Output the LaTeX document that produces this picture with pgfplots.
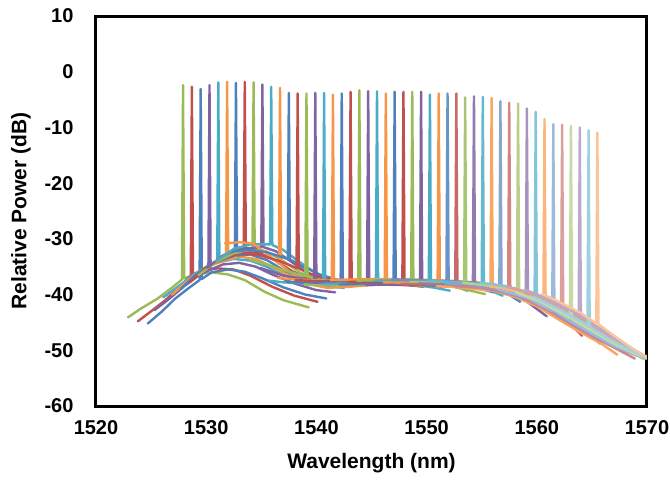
\documentclass[border=0pt]{standalone}
\usepackage{pgfplots}
\pgfplotsset{compat=1.18}
\usepackage{fontspec}
\setmainfont{Liberation Sans}
% Office 2007 series colours
\definecolor{cB}{HTML}{4F81BD}
\definecolor{cR}{HTML}{C0504D}
\definecolor{cG}{HTML}{9BBB59}
\definecolor{cP}{HTML}{8064A2}
\definecolor{cT}{HTML}{4BACC6}
\definecolor{cO}{HTML}{F79646}
\begin{document}
\begin{tikzpicture}
\useasboundingbox (-96pt,-74pt) rectangle (574pt,406pt);
\begin{axis}[
  at={(0pt,0pt)}, anchor=south west,
  scale only axis, width=551pt, height=390pt,
  xmin=1520, xmax=1570, ymin=-60, ymax=10,
  xtick={1520,1530,...,1570}, ytick={-60,-50,...,10},
  xticklabels={1520,1530,1540,1550,1560,1570},
  yticklabels={-60,-50,-40,-30,-20,-10,0,10},
  major tick length=0pt,
  axis line style={line width=3pt, black},
  tick label style={font=\fontsize{20}{24}\selectfont\bfseries},
  xticklabel style={yshift=-11pt},
  yticklabel style={xshift=-19pt},
  xlabel={Wavelength (nm)}, ylabel={Relative Power (dB)},
  label style={font=\fontsize{21}{25}\selectfont\bfseries},
  xlabel style={at={(axis description cs:0.5,-0.146)}, anchor=center},
  ylabel style={at={(axis description cs:-0.136,0.5)}, anchor=center},
  every axis plot/.append style={line width=2.4pt, line join=round, line cap=round, mark=none},
]
% channels 1-16
\addplot[cG] coordinates {(1522.9,-44.1)(1524,-42.6)(1525.6,-40.7)(1527,-38.6)(1527.8,-37.3)(1527.9,-2.4)(1528.0,-37.1)(1529,-36.4)(1530.5,-36.0)(1532,-36.4)(1533.5,-37.4)(1535.3,-39.5)(1537,-41.0)(1539.3,-42.3)};
\addplot[cR] coordinates {(1523.8,-44.8)(1525,-43.0)(1526.3,-41.0)(1527.5,-38.8)(1528.6,-36.6)(1528.7,-2.7)(1528.8,-36.4)(1529.5,-35.8)(1531,-35.3)(1532.5,-35.5)(1534,-36.6)(1536,-38.6)(1538,-40.2)(1540.1,-41.3)};
\addplot[cB] coordinates {(1524.7,-45.2)(1526,-43.0)(1527.2,-40.7)(1528.5,-38.7)(1529.4,-37.4)(1529.5,-3.1)(1529.6,-37.2)(1530.5,-36.0)(1532,-35.5)(1533.5,-35.9)(1535,-37.0)(1537,-38.7)(1539,-40.0)(1540.9,-40.7)};
\addplot[cP] coordinates {(1525.3,-42.8)(1526.5,-41.0)(1528,-38.5)(1529.3,-36.6)(1530.2,-35.7)(1530.3,-2.4)(1530.4,-35.5)(1531.5,-34.6)(1533,-34.3)(1534.5,-35.0)(1536,-36.4)(1538,-38.0)(1540,-39.2)(1541.7,-39.6)};
\addplot[cT] coordinates {(1526.1,-40.5)(1527.5,-38.5)(1529,-36.2)(1530.3,-34.8)(1531.0,-34.3)(1531.1,-1.9)(1531.2,-34.2)(1532.5,-33.6)(1534,-33.9)(1535.5,-35.0)(1537,-36.5)(1539,-37.8)(1541,-38.5)(1542.5,-38.8)};
\addplot[cO] coordinates {(1526.9,-40.0)(1528.5,-37.2)(1530,-35.0)(1531.8,-33.8)(1531.9,-1.8)(1532.0,-33.7)(1533,-33.2)(1534.5,-33.6)(1536,-35.0)(1537.5,-36.6)(1539.5,-37.8)(1541.5,-38.3)(1543.3,-38.4)};
\addplot[cB] coordinates {(1527.7,-39.0)(1529,-36.5)(1530.5,-34.4)(1532.6,-33.0)(1532.7,-2.0)(1532.8,-33.0)(1534,-32.8)(1535.5,-33.8)(1537,-35.6)(1538.5,-37.0)(1540.5,-38.0)(1542.5,-38.3)(1544.1,-38.3)};
\addplot[cR] coordinates {(1528.5,-37.8)(1530,-35.2)(1531.5,-33.5)(1533.4,-32.4)(1533.5,-1.8)(1533.6,-32.4)(1534.8,-32.5)(1536.2,-33.8)(1537.8,-35.8)(1539.5,-37.3)(1541.5,-38.0)(1543.5,-38.2)(1544.9,-38.2)};
\addplot[cG] coordinates {(1529.3,-36.5)(1531,-34.0)(1532.5,-32.6)(1534.2,-31.9)(1534.3,-1.9)(1534.4,-31.9)(1535.5,-32.3)(1537,-34.0)(1538.5,-36.0)(1540.5,-37.6)(1542.5,-38.0)(1544.5,-38.0)(1545.7,-38.0)};
\addplot[cP] coordinates {(1530.1,-35.2)(1531.5,-33.0)(1533,-31.8)(1535.0,-31.5)(1535.1,-2.3)(1535.2,-31.5)(1536.3,-32.2)(1537.8,-34.2)(1539.3,-36.2)(1541,-37.5)(1543,-37.9)(1545,-38.0)(1546.5,-38.0)};
\addplot[cT] coordinates {(1530.9,-34.0)(1532.5,-31.8)(1534,-31.0)(1535.8,-31.0)(1535.9,-2.7)(1536.0,-31.1)(1537,-32.0)(1538.5,-34.2)(1540,-36.2)(1541.5,-37.3)(1543.5,-37.8)(1545.5,-37.9)(1547.3,-37.9)};
\addplot[cO] coordinates {(1531.7,-30.8)(1533,-30.6)(1534.2,-30.8)(1535.5,-32.6)(1536.6,-34.5)(1536.7,-2.9)(1536.8,-34.7)(1538,-36.6)(1539.5,-38.2)(1541,-38.8)(1543,-38.6)(1545.5,-38.2)(1548.1,-38.3)};
\addplot[cB] coordinates {(1532.5,-32.2)(1534,-32.0)(1535.5,-32.4)(1537.4,-33.6)(1537.5,-3.8)(1537.6,-33.7)(1538.8,-35.0)(1540.3,-36.4)(1542,-37.4)(1544,-37.8)(1546,-37.9)(1548.9,-38.4)};
\addplot[cR] coordinates {(1533.3,-32.6)(1535,-33.0)(1536.5,-33.9)(1538.2,-35.2)(1538.3,-3.9)(1538.4,-35.3)(1539.5,-36.3)(1541,-37.2)(1543,-37.7)(1545,-37.9)(1547,-38.0)(1549.7,-38.6)};
\addplot[cG] coordinates {(1534.1,-33.8)(1535.5,-34.6)(1537,-35.6)(1539.0,-36.7)(1539.1,-3.9)(1539.2,-36.8)(1540.5,-37.4)(1542,-37.8)(1544,-38.0)(1546,-38.0)(1548,-38.1)(1550.5,-38.7)};
\addplot[cP] coordinates {(1534.9,-35.2)(1537,-36.6)(1539.8,-37.5)(1539.9,-3.8)(1540.0,-37.5)(1543,-37.6)(1546,-37.5)(1549,-37.6)(1551.3,-38.7)};
% channels 17-30
\addplot[cT] coordinates {(1535.7,-37.5)(1537,-37.8)(1540.6,-38.2)(1540.7,-3.8)(1540.8,-38.2)(1543,-38.1)(1546,-38.0)(1549,-38.1)(1552.1,-39.3)};
\addplot[cO] coordinates {(1536.5,-37.0)(1538,-37.3)(1541.4,-37.5)(1541.5,-4.1)(1541.6,-37.5)(1543,-37.4)(1546,-37.3)(1549,-37.4)(1552.9,-38.7)};
\addplot[cB] coordinates {(1537.3,-37.7)(1540,-38.0)(1542.2,-38.0)(1542.3,-3.9)(1542.4,-38.0)(1546,-37.8)(1549,-37.9)(1552,-38.1)(1553.7,-39.3)};
\addplot[cR] coordinates {(1538.1,-37.4)(1540,-37.6)(1543.0,-37.5)(1543.1,-3.6)(1543.2,-37.5)(1546,-37.4)(1549,-37.5)(1552,-37.7)(1554.5,-39.0)};
\addplot[cG] coordinates {(1538.9,-38.2)(1540,-38.3)(1543.8,-38.2)(1543.9,-3.3)(1544.0,-38.2)(1546,-38.1)(1549,-38.2)(1552,-38.4)(1555.3,-39.9)};
\addplot[cP] coordinates {(1539.7,-37.8)(1541,-37.8)(1544.6,-37.7)(1544.7,-3.5)(1544.8,-37.7)(1547,-37.6)(1550,-37.7)(1553,-38.0)(1556.1,-39.6)};
\addplot[cT] coordinates {(1540.5,-38.1)(1543,-38.0)(1545.4,-37.9)(1545.5,-3.5)(1545.6,-37.9)(1549,-38.0)(1552,-38.2)(1555,-38.6)(1556.9,-40.2)};
\addplot[cO] coordinates {(1541.3,-37.4)(1543,-37.3)(1546.2,-37.2)(1546.3,-3.9)(1546.4,-37.2)(1549,-37.3)(1552,-37.5)(1555,-37.9)(1557.7,-39.6)};
\addplot[cB] coordinates {(1542.1,-38.2)(1544,-38.1)(1547.0,-38.0)(1547.1,-3.6)(1547.2,-38.0)(1550,-38.1)(1553,-38.4)(1555,-38.7)(1557,-39.4)(1558.5,-41.3)};
\addplot[cR] coordinates {(1542.9,-37.8)(1545,-37.7)(1547.8,-37.7)(1547.9,-3.6)(1548.0,-37.7)(1551,-37.9)(1554,-38.2)(1557,-39.0)(1559.3,-41.4)};
\addplot[cG] coordinates {(1543.7,-37.5)(1546,-37.4)(1548.6,-37.4)(1548.7,-3.6)(1548.8,-37.4)(1552,-37.7)(1555,-38.1)(1557,-38.6)(1558.5,-39.4)(1560.1,-41.5)};
\addplot[cP] coordinates {(1544.5,-38.3)(1546,-38.2)(1549.4,-38.3)(1549.5,-3.6)(1549.6,-38.3)(1552,-38.5)(1555,-38.9)(1557,-39.7)(1559,-41.1)(1560.9,-43.9)};
\addplot[cT] coordinates {(1545.3,-37.5)(1548,-37.5)(1550.2,-37.6)(1550.3,-4.1)(1550.4,-37.6)(1553,-37.9)(1555,-38.2)(1557,-38.7)(1559,-39.9)(1561.7,-43.3)};
\addplot[cO] coordinates {(1546.1,-37.8)(1549,-37.9)(1551.0,-38.0)(1551.1,-3.9)(1551.2,-38.0)(1554,-38.3)(1556,-38.8)(1558,-39.7)(1560,-41.2)(1562.5,-44.9)};
% channels 31-36
\addplot[cB!85] coordinates {(1546.9,-37.3)(1549,-37.4)(1551.8,-37.6)(1551.9,-3.9)(1552.0,-37.6)(1554,-37.8)(1556,-38.2)(1558,-38.9)(1560,-40.2)(1562,-42.2)(1563.3,-44.5)};
\addplot[cR!85] coordinates {(1547.7,-38.1)(1550,-38.2)(1552.6,-38.4)(1552.7,-3.9)(1552.8,-38.4)(1555,-38.8)(1557,-39.5)(1559,-40.9)(1561,-42.8)(1563,-45.2)(1564.1,-47.4)};
\addplot[cG!85] coordinates {(1548.5,-37.7)(1551,-37.8)(1553.4,-38.0)(1553.5,-4.6)(1553.6,-38.0)(1556,-38.6)(1558,-39.4)(1560,-40.8)(1562,-42.9)(1564,-45.1)(1564.9,-47.1)};
\addplot[cP!85] coordinates {(1549.3,-38.0)(1552,-38.2)(1554.2,-38.5)(1554.3,-4.4)(1554.4,-38.5)(1557,-39.3)(1559,-40.5)(1561,-42.4)(1563,-44.7)(1565,-47.0)(1565.7,-48.8)};
\addplot[cT!85] coordinates {(1550.1,-37.5)(1553,-37.8)(1555.0,-38.1)(1555.1,-4.5)(1555.2,-38.1)(1557,-38.6)(1559,-39.7)(1561,-41.4)(1563,-43.5)(1565,-45.8)(1566.5,-48.6)};
\addplot[cO!85] coordinates {(1550.9,-38.5)(1553,-38.7)(1555.8,-39.3)(1555.9,-4.7)(1556.0,-39.3)(1558,-40.4)(1560,-42.1)(1562,-44.5)(1564,-46.8)(1566,-49.0)(1567.3,-50.8)};
% channels 37-42
\addplot[cB!70] coordinates {(1551.7,-38.0)(1554,-38.2)(1556.6,-38.9)(1556.7,-5.3)(1556.8,-38.9)(1559,-40.2)(1561,-42.0)(1563,-44.2)(1565,-46.5)(1567,-48.8)(1568.1,-50.6)};
\addplot[cR!70] coordinates {(1552.5,-38.5)(1555,-38.8)(1557.4,-39.8)(1557.5,-5.6)(1557.6,-39.8)(1559,-40.9)(1561,-42.8)(1563,-45.2)(1565,-47.5)(1567,-49.5)(1568.9,-51.5)};
\addplot[cG!70] coordinates {(1553.3,-37.9)(1556,-38.5)(1558.2,-39.2)(1558.3,-5.7)(1558.4,-39.2)(1560,-40.6)(1562,-42.6)(1564,-44.8)(1566,-47.3)(1568,-49.5)(1569.7,-51.6)};
\addplot[cP!70] coordinates {(1554.1,-38.5)(1556,-39.0)(1559.0,-40.8)(1559.1,-6.6)(1559.2,-40.8)(1561,-42.6)(1563,-45.0)(1565,-47.3)(1567,-49.3)(1569,-50.9)(1570,-51.5)};
\addplot[cT!70] coordinates {(1554.9,-37.9)(1557,-38.4)(1559.8,-40.0)(1559.9,-7.2)(1560.0,-40.0)(1562,-41.9)(1564,-44.1)(1566,-46.6)(1568,-49.2)(1570,-51.3)};
\addplot[cO!70] coordinates {(1555.7,-38.5)(1558,-39.4)(1560.6,-41.4)(1560.7,-8.5)(1560.8,-41.4)(1563,-44.0)(1565,-46.3)(1567,-48.6)(1569,-50.6)(1570,-51.4)};
% channels 43-48
\addplot[cB!55] coordinates {(1556.5,-39.1)(1559,-40.5)(1561.4,-42.9)(1561.5,-9.4)(1561.6,-42.9)(1563,-44.7)(1565,-47.0)(1567,-49.2)(1569,-50.9)(1570,-51.5)};
\addplot[cR!55] coordinates {(1557.3,-38.6)(1559,-39.5)(1561,-41.2)(1562.2,-42.4)(1562.3,-9.5)(1562.4,-42.5)(1564,-44.3)(1566,-46.8)(1568,-49.3)(1570,-51.3)};
\addplot[cG!55] coordinates {(1558.1,-39.6)(1560,-41.0)(1562,-43.1)(1563.0,-44.2)(1563.1,-9.7)(1563.2,-44.4)(1565,-46.5)(1567,-48.8)(1569,-50.7)(1570,-51.4)};
\addplot[cP!55] coordinates {(1558.9,-39.1)(1561,-40.7)(1563,-42.7)(1563.8,-43.6)(1563.9,-10.0)(1564.0,-43.8)(1566,-46.4)(1568,-49.0)(1570,-51.2)};
\addplot[cT!55] coordinates {(1559.7,-40.4)(1562,-42.6)(1564.6,-45.5)(1564.7,-10.5)(1564.8,-45.7)(1566,-47.3)(1568,-49.5)(1570,-51.3)};
\addplot[cO!55] coordinates {(1560.5,-39.9)(1562,-41.3)(1564,-43.3)(1565.4,-45.2)(1565.5,-10.9)(1565.6,-45.3)(1567,-47.4)(1569,-50.1)(1570,-51.2)};
\end{axis}
\end{tikzpicture}
\end{document}
